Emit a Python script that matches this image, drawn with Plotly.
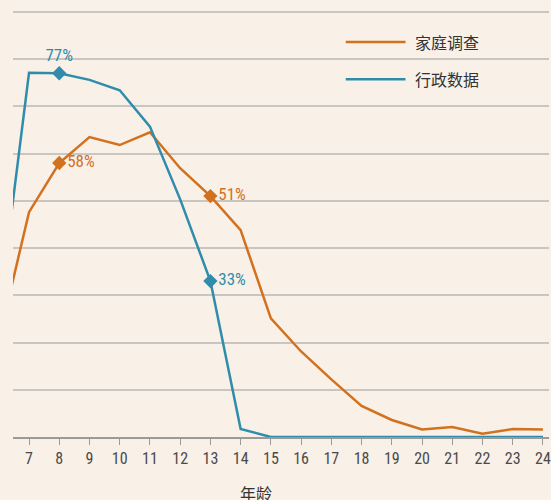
import plotly.graph_objects as go

ages = [6, 7, 8, 9, 10, 11, 12, 13, 14, 15, 16, 17, 18, 19, 20, 21, 22, 23, 24]
household = [20.4, 47.6, 58, 63.5, 61.8, 64.5, 56.9, 51, 43.8, 25.1, 18.1, 12.2, 6.6, 3.6, 1.6, 2.1, 0.7, 1.7, 1.6]
admin = [26, 77.1, 77, 75.6, 73.4, 65.7, 50.3, 33, 1.7, 0, 0, 0, 0, 0, 0, 0, 0, 0, 0]
tick_vals = list(range(7, 25))
tick_text = [str(v) for v in tick_vals]
series_names = ["家庭调查", "行政数据"]
highlight_ages = [8, 13]
hh_labels = ["58%", "51%"]
ad_labels = ["77%", "33%"]
x_title = "年龄"

ORANGE = "#d2711e"
BLUE = "#2f8dab"
BG = "#f9f0e8"
NUM_FONT = "Roboto Condensed, DejaVu Sans Condensed, sans-serif"
CJK_FONT = "Noto Sans CJK SC"

def pick(vals, xs):
    return [vals[ages.index(a)] for a in xs]

fig = go.Figure()
fig.add_trace(go.Scatter(x=ages, y=household, mode="lines",
                         line=dict(color=ORANGE, width=2.5), showlegend=False))
fig.add_trace(go.Scatter(x=ages, y=admin, mode="lines",
                         line=dict(color=BLUE, width=2.5), showlegend=False))

# highlight markers
fig.add_trace(go.Scatter(x=highlight_ages, y=pick(household, highlight_ages), mode="markers+text",
                         marker=dict(symbol="diamond", size=11, color=ORANGE),
                         text=hh_labels, textposition="middle right",
                         textfont=dict(family=NUM_FONT, size=17, color=ORANGE),
                         showlegend=False, cliponaxis=False))
fig.add_trace(go.Scatter(x=[highlight_ages[0]], y=[pick(admin, highlight_ages)[0]], mode="markers+text",
                         marker=dict(symbol="diamond", size=11, color=BLUE),
                         text=[ad_labels[0]], textposition="top center",
                         textfont=dict(family=NUM_FONT, size=17, color=BLUE),
                         showlegend=False, cliponaxis=False))
fig.add_trace(go.Scatter(x=[highlight_ages[1]], y=[pick(admin, highlight_ages)[1]], mode="markers+text",
                         marker=dict(symbol="diamond", size=11, color=BLUE),
                         text=[ad_labels[1]], textposition="middle right",
                         textfont=dict(family=NUM_FONT, size=17, color=BLUE),
                         showlegend=False, cliponaxis=False))

# manual legend
legend_y = [0.904, 0.8185]
colors = [ORANGE, BLUE]
for name, yy, c in zip(series_names, legend_y, colors):
    fig.add_shape(type="line", xref="paper", yref="paper", x0=0.6208, x1=0.7323, y0=yy, y1=yy,
                  line=dict(color=c, width=2.5))
    fig.add_annotation(xref="paper", yref="paper", x=0.7454, y=yy, text=name, showarrow=False,
                       xanchor="left", yanchor="middle",
                       font=dict(family=CJK_FONT, size=16, color="#333333"))

fig.add_annotation(xref="paper", yref="paper", x=0.4535, y=-0.128, text=x_title, showarrow=False,
                   xanchor="center", yanchor="middle",
                   font=dict(family=CJK_FONT, size=16, color="#333333"))

fig.update_layout(
    width=551, height=500,
    margin=dict(l=13, r=0, t=0, b=63),
    paper_bgcolor=BG, plot_bgcolor=BG,
    xaxis=dict(range=[6.47, 24.2], tickmode="array", tickvals=tick_vals, ticktext=tick_text,
               showgrid=False, zeroline=False, showline=True, linecolor="#9a9a9a", linewidth=1.5,
               ticks="outside", ticklen=6, tickwidth=1.2, tickcolor="#9a9a9a",
               ticklabeloverflow="allow",
               tickfont=dict(family=NUM_FONT, size=16, color="#4a4a4a")),
    yaxis=dict(range=[0, 92.5], tickvals=list(range(10, 100, 10)), showticklabels=False,
               showgrid=True, gridcolor="#c9c6c2", gridwidth=1.5, zeroline=False, ticks=""),
)

fig.write_html("out.html", config={"displayModeBar": False},
               post_script="document.body.style.margin='0';")
